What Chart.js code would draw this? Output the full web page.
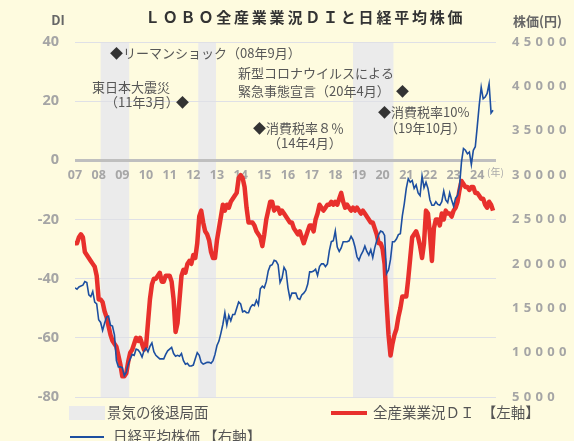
<!DOCTYPE html>
<html lang="ja">
<head>
<meta charset="utf-8">
<script src="https://cdn.jsdelivr.net/npm/chart.js@4.4.1/dist/chart.umd.min.js"></script>
<style>
  html, body { margin: 0; padding: 0; background: #fefbdf; }
</style>
</head>
<body>
<canvas id="canvas" width="574" height="441"></canvas>
<script>
// ---- data (monthly, Jan 2007 = index 0) ----
var yearLabels = ['07','08','09','10','11','12','13','14','15','16','17','18','19','20','21','22','23','24'];

// LOBO 全産業業況DI (left axis)
var diValues = [
  -28, -28, -26, -25, -26, -31, -32, -33, -34, -35, -36, -39,   // 2007
  -47, -47, -48, -51, -53, -56, -59, -61, -62, -63, -66, -69,   // 2008
  -73, -73, -72, -68, -65, -64, -62, -60, -61, -60, -62, -64,   // 2009
  -63, -55, -47, -42, -40, -40, -39, -38, -41, -41, -39, -39,   // 2010
  -39, -41, -47, -58, -55, -47, -39, -37, -38, -35, -34, -35,   // 2011
  -32, -33, -28, -19, -17, -21, -24, -25, -27, -31, -33, -33,   // 2012
  -27, -23, -19, -15, -17, -15, -16, -14, -13, -12, -11, -6,    // 2013
  -5, -6, -9, -16, -21, -21, -21, -22, -24, -25, -26, -29,      // 2014
  -25, -20, -17, -14, -14, -17, -16, -16, -18, -17, -18, -19,   // 2015
  -20, -21, -21, -23, -24, -25, -24, -26, -28, -26, -24, -22,   // 2016
  -22, -24, -20, -18, -15, -16, -17, -16, -15, -15, -14, -15,   // 2017
  -14, -15, -13, -11, -14, -16, -15, -16, -17, -16, -17, -16,   // 2018
  -17, -18, -17, -18, -19, -20, -21, -21, -23, -25, -28, -28,   // 2019
  -30, -35, -48, -59, -66, -62, -59, -57, -53, -50, -46, -46,   // 2020
  -46, -40, -33, -26, -25, -24, -26, -29, -33, -28, -17, -18,   // 2021
  -25, -34, -23, -20, -20, -22, -18, -20, -17, -18, -18, -19,   // 2022
  -17, -16, -14, -10, -7, -8, -9, -9, -10, -9, -9, -11,         // 2023
  -11, -12, -13, -13, -15, -16, -14, -15, -17                   // 2024
];

// 日経平均株価 (right axis, yen)
var nikkeiValues = [
  17300, 17150, 17400, 17500, 17600, 18000, 17900, 16500, 16300, 16900, 15700, 15500,
  13700, 13400, 12500, 13300, 14000, 14100, 13100, 13000, 12000, 9100, 8400, 8400,
  8300, 7400, 7800, 8700, 9300, 9800, 9700, 10400, 10300, 10000, 9500, 10200,
  10500, 10100, 10700, 11100, 10100, 9700, 9500, 9300, 9300, 9300, 9800, 10200,
  10400, 10600, 9900, 9600, 9700, 9600, 9900, 9100, 8700, 8800, 8500, 8500,
  8600, 9300, 10000, 9700, 8900, 8700, 8800, 8900, 8900, 8800, 9100, 9800,
  10800, 11300, 12200, 13200, 14500, 13100, 14200, 13600, 14300, 14300, 15000, 15700,
  15500, 14600, 14700, 14500, 14500, 15100, 15400, 15300, 15900, 15400, 17200, 17500,
  17300, 18000, 19200, 19800, 19900, 20400, 20300, 19900, 17900, 18400, 19600, 19200,
  17300, 16100, 16700, 16700, 16700, 16100, 16000, 16500, 16700, 17000, 17700, 19100,
  19100, 19200, 19400, 18700, 19700, 20000, 20000, 19700, 20000, 21500, 22500, 22600,
  23700, 21900, 21400, 21800, 22500, 22500, 22500, 22600, 23100, 22700, 21900, 20800,
  20400, 21000, 21400, 22000, 21400, 21000, 21600, 20700, 21800, 22600, 23300, 23700,
  23600, 23200, 18900, 19300, 20500, 22500, 22500, 22800, 23300, 23400, 25400, 26800,
  28500, 29600, 29200, 29400, 28500, 28900, 28000, 27700, 29900, 28600, 29200, 28500,
  27200, 26600, 26600, 27000, 26700, 26600, 27000, 28200, 27200, 26900, 28000, 27200,
  26500, 27400, 27700, 28800, 31500, 33000, 32800, 32400, 32600, 31200, 32800, 33200,
  35500, 37900, 39900, 38600, 38800, 39200, 40300, 37000, 37300
];

// 景気の後退局面 (month index start / end)
var recessionStart = [13, 62.5, 141];
var recessionEnd = [27.5, 71.5, 161.5];

var diTicks = [-80, 40, 20];        // min, max, step
var stockTicks = [5000, 45000, 5000];

// ---- drawing helpers ----
var JP = '"Noto Sans CJK JP", "Noto Sans", sans-serif';

function drawParts(ctx, x, y, parts) {
    parts.forEach(function(p) {
        ctx.fillStyle = p[1];
        ctx.fillText(p[0], x, y);
        x += ctx.measureText(p[0]).width;
    });
}

var backdrop = {
    id: 'backdrop',
    beforeDraw: function(chart) {
        var ctx = chart.ctx, area = chart.chartArea, sx = chart.scales.x;
        ctx.save();
        ctx.fillStyle = '#fefbdf';
        ctx.fillRect(0, 0, chart.width, chart.height);
        ctx.fillStyle = '#ebebeb';
        for (var i = 0; i < recessionStart.length; i++) {
            var x1 = sx.getPixelForValue(recessionStart[i]);
            var x2 = sx.getPixelForValue(recessionEnd[i]);
            ctx.fillRect(x1, area.top, x2 - x1, area.bottom - area.top);
        }
        ctx.restore();
    }
};

var texts = {
    id: 'texts',
    afterDraw: function(chart) {
        var ctx = chart.ctx;
        var dark = '#333', txt = '#575757';
        ctx.save();
        ctx.textBaseline = 'middle';

        // title
        ctx.font = 'bold 15px ' + JP;
        ctx.fillStyle = '#333';
        ctx.textAlign = 'left';
        ctx.letterSpacing = '2.8px';
        ctx.fillText('ＬＯＢＯ全産業業況ＤＩと日経平均株価', 145, 17);
        ctx.letterSpacing = '0px';

        // axis titles
        ctx.font = 'bold 13px ' + JP;
        ctx.fillStyle = '#666';
        ctx.textAlign = 'center';
        ctx.fillText('DI', 58, 20);
        ctx.textAlign = 'left';
        ctx.fillText('株価(円)', 513, 21);

        // (年)
        ctx.font = '10px ' + JP;
        ctx.fillStyle = '#aaa';
        ctx.fillText('(年)', 487, 172);

        // annotations
        ctx.font = '13px ' + JP;
        drawParts(ctx, 110, 53, [['◆', dark], ['リーマンショック（08年9月）', txt]]);
        drawParts(ctx, 92, 87, [['東日本大震災', txt]]);
        drawParts(ctx, 105, 102, [['（11年3月）', txt]]);
        drawParts(ctx, 176, 102, [['◆', dark]]);
        drawParts(ctx, 238, 73, [['新型コロナウイルスによる', txt]]);
        drawParts(ctx, 238, 91, [['緊急事態宣言（20年4月）', txt]]);
        drawParts(ctx, 396, 91, [['◆', dark]]);
        drawParts(ctx, 253, 128, [['◆', dark], ['消費税率８％', txt]]);
        drawParts(ctx, 268, 143, [['（14年4月）', txt]]);
        drawParts(ctx, 378, 112, [['◆', dark], ['消費税率10%', txt]]);
        drawParts(ctx, 385, 128, [['（19年10月）', txt]]);

        // legend
        ctx.font = '14.5px ' + JP;
        ctx.fillStyle = '#ebebeb';
        ctx.fillRect(69, 406, 36, 14);
        drawParts(ctx, 107, 412, [['景気の後退局面', '#555']]);
        ctx.strokeStyle = '#e8302c';
        ctx.lineWidth = 4;
        ctx.beginPath(); ctx.moveTo(331, 413); ctx.lineTo(367, 413); ctx.stroke();
        drawParts(ctx, 373, 412, [['全産業業況ＤＩ　【左軸】', '#555']]);
        ctx.strokeStyle = '#1d4fa0';
        ctx.lineWidth = 2;
        ctx.beginPath(); ctx.moveTo(70, 437); ctx.lineTo(104, 437); ctx.stroke();
        drawParts(ctx, 113, 436, [['日経平均株価 【右軸】', '#555']]);
        ctx.restore();
    }
};

Chart.defaults.font.family = '"Noto Sans", "Noto Sans CJK JP", sans-serif';

window.onload = function() {
    var ctx = document.getElementById('canvas').getContext('2d');
    window.myChart = new Chart(ctx, {
        type: 'line',
        data: {
            datasets: [{
                label: '日経平均株価',
                yAxisID: 'y2',
                data: nikkeiValues.map(function(v, i) { return {x: i, y: v}; }),
                borderColor: '#1d4fa0',
                borderWidth: 1.6,
                pointRadius: 0,
                order: 0
            }, {
                label: '全産業業況DI',
                yAxisID: 'y',
                data: diValues.map(function(v, i) { return {x: i, y: v}; }),
                borderColor: '#e8302c',
                borderWidth: 4.5,
                borderJoinStyle: 'round',
                pointRadius: 0,
                order: 1
            }]
        },
        options: {
            responsive: false,
            animation: false,
            layout: { padding: { top: 42, bottom: 44, left: 0, right: 0 } },
            plugins: { legend: { display: false }, tooltip: { enabled: false } },
            scales: {
                x: {
                    type: 'linear',
                    position: { y: 0 },
                    min: 0,
                    max: 213.5,
                    grid: { display: false, drawTicks: false },
                    border: { display: false },
                    afterBuildTicks: function(scale) {
                        scale.ticks = yearLabels.map(function(l, i) { return {value: i * 12}; });
                    },
                    ticks: {
                        autoSkip: false,
                        maxRotation: 0,
                        padding: 8,
                        color: '#a6a6a6',
                        font: { size: 12.5, weight: 'bold' },
                        callback: function(v) { return yearLabels[Math.round(v / 12)]; }
                    }
                },
                y: {
                    position: 'left',
                    min: diTicks[0],
                    max: diTicks[1],
                    afterFit: function(scale) { scale.width = 75; },
                    grid: {
                        drawTicks: false,
                        color: function(c) { return c.tick.value === 0 ? '#bfbfbf' : '#dfe0e6'; },
                        lineWidth: function(c) { return c.tick.value === 0 ? 3 : 1; }
                    },
                    border: { display: false },
                    ticks: {
                        stepSize: diTicks[2],
                        padding: 16,
                        color: '#a5a5a5',
                        font: { size: 14.5, weight: 'bold' }
                    }
                },
                y2: {
                    position: 'right',
                    min: stockTicks[0],
                    max: stockTicks[1],
                    afterFit: function(scale) { scale.width = 78; },
                    grid: { display: false, drawTicks: false },
                    border: { display: false },
                    ticks: {
                        stepSize: stockTicks[2],
                        padding: 16,
                        color: '#a5a5a5',
                        font: { size: 13, weight: 'bold' },
                        callback: function(v) { return String(v).split('').join('\u2004'); }
                    }
                }
            }
        },
        plugins: [backdrop, texts]
    });
};
</script>
</body>
</html>
